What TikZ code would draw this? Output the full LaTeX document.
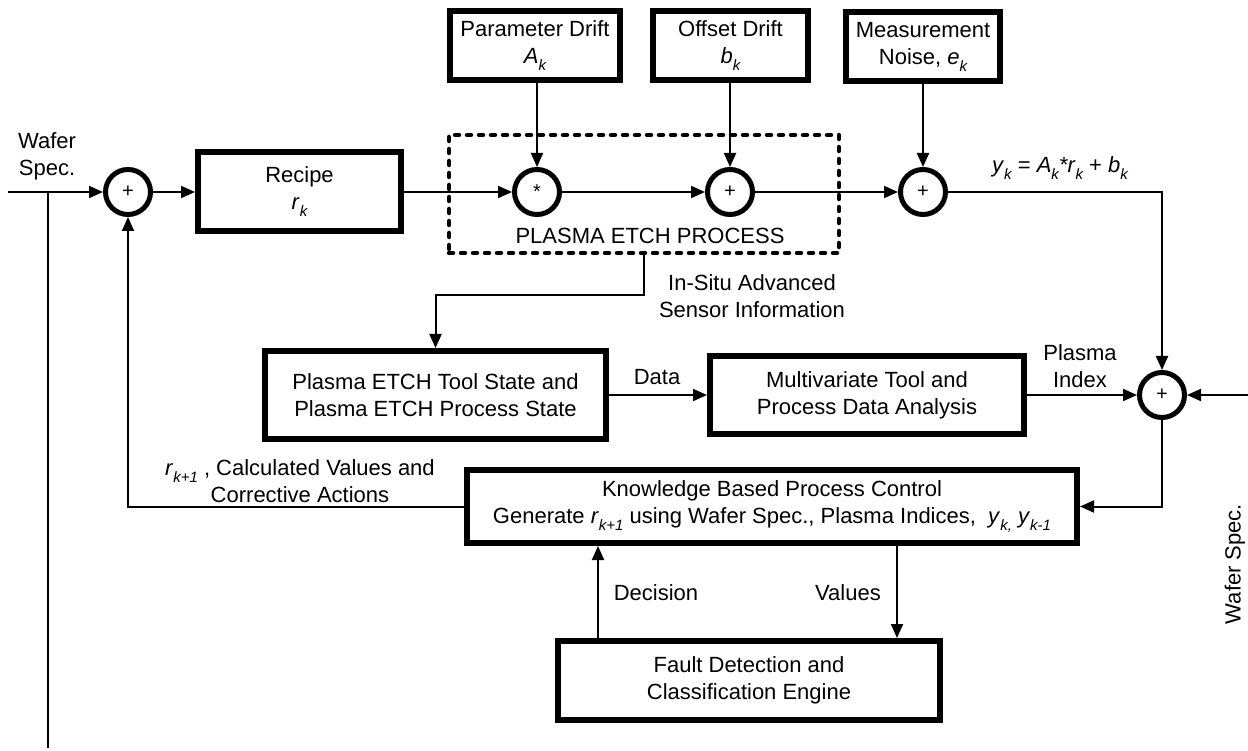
\documentclass[tikz,border=0pt]{standalone}
\usepackage{fontspec}
\setmainfont{Liberation Sans}
\usetikzlibrary{arrows.meta}
% italic subscript, set smaller and lowered
\newcommand{\sbi}[1]{\raisebox{-0.32em}{\fontsize{15}{15}\selectfont\itshape #1}}
\newcommand{\iv}[1]{\textit{#1}}
\begin{document}
\begin{tikzpicture}[x=1pt,y=-1pt,
  font=\fontsize{22}{27}\selectfont,
  >={Triangle[length=14pt,width=12pt]},
  blk/.style={draw,line width=6pt,rectangle,align=center,inner sep=0pt},
  sumc/.style={draw,circle,line width=5pt,minimum size=45pt,inner sep=0pt,font=\fontsize{20}{20}\selectfont},
  etchbox/.style={draw,line width=4.5pt,dash pattern=on 4pt off 8pt,line cap=round,rectangle,minimum width=390pt,minimum height=118pt},
  wire/.style={line width=2pt},
  lbl/.style={align=center,inner sep=0pt}]
\useasboundingbox (0,0) rectangle (1248,751);

% plasma etch process (dashed frame)
\node[etchbox] (etch) at (644,194) {};

% blocks
\node[blk,minimum width=203pt,minimum height=79pt] (recipe) at (299.5,192) {Recipe\\\iv{r}\sbi{k}};
\node[blk,minimum width=170pt,minimum height=69pt] (param) at (535,46) {Parameter Drift\\\iv{A}\sbi{k}};
\node[blk,minimum width=155pt,minimum height=69pt] (offset) at (730.5,46) {Offset Drift\\\iv{b}\sbi{k}};
\node[blk,minimum width=154pt,minimum height=69pt] (noise) at (923,47) {Measurement\\Noise, \iv{e}\sbi{k}};
\node[blk,minimum width=341pt,minimum height=88pt] (tool) at (435.5,395) {Plasma ETCH Tool State and\\Plasma ETCH Process State};
\node[blk,minimum width=314pt,minimum height=78pt] (multi) at (867,395) {Multivariate Tool and\\Process Data Analysis};
\node[blk,minimum width=610pt,minimum height=73pt] (kb) at (772,506.5) {Knowledge Based Process Control\\Generate \iv{r}\sbi{k+1} using Wafer Spec., Plasma Indices,\ \ \iv{y}\sbi{k,} \iv{y}\sbi{k-1}};
\node[blk,minimum width=382pt,minimum height=79pt] (fd) at (749,680.5) {Fault Detection and\\Classification Engine};

% summing junctions
\node[sumc] (s1) at (128,192) {+};
\node[sumc] (star) at (537,192) {*};
\node[sumc] (p2) at (730,192) {+};
\node[sumc] (s4) at (923,192) {+};
\node[sumc] (s3) at (1162,395) {+};

% free ends, bends and tap points
\coordinate (wsin) at (8,192);
\coordinate (tap) at (48,192);
\coordinate (tapend) at (48,748);
\coordinate (rin) at (1248,395);
\coordinate (sensbend) at (644,295);
\coordinate (dx) at (598,0);
\coordinate (vx) at (897,0);

% forward path
\draw[wire,->] (wsin) -- (s1);
\draw[wire] (tap) -- (tapend);
\draw[wire,->] (s1) -- (recipe);
\draw[wire,->] (recipe) -- (star);
\draw[wire,->] (star) -- (p2);
\draw[wire,->] (p2) -- (s4);
\draw[wire,->] (star |- param.south) -- (star);
\draw[wire,->] (p2 |- offset.south) -- (p2);
\draw[wire,->] (s4 |- noise.south) -- (s4);
\draw[wire,->] (s4) -- (s4 -| s3) -- (s3);

% sensor / analysis path
\draw[wire,->] (etch.south) -- (sensbend) -| (tool.north);
\draw[wire,->] (tool) -- (multi);
\draw[wire,->] (multi) -- (s3);
\draw[wire,->] (rin) -- (s3);

% control path
\draw[wire,->] (s3.south) |- (kb.east);
\draw[wire,->] (kb.west) -| (s1.south);
\draw[wire,->] (fd.north -| dx) -- (kb.south -| dx);
\draw[wire,->] (kb.south -| vx) -- (fd.north -| vx);

% labels
\node[lbl] (lws) at (47,156) {Wafer\\Spec.};
\node[lbl,rotate=90] (rws) at (1235,564) {Wafer Spec.};
\node[lbl] (lpep) at (650,236) {PLASMA ETCH PROCESS};
\node[lbl] (lsens) at (752,296) {In-Situ Advanced\\Sensor Information};
\node[lbl] (ldata) at (657,377) {Data};
\node[lbl] (lpi) at (1080,366) {Plasma\\Index};
\node[lbl] (ly) at (1060,168) {\iv{y}\sbi{k} = \iv{A}\sbi{k}\iv{*r}\sbi{k} + \iv{b}\sbi{k}};
\node[lbl] (lr) at (300,481) {\iv{r}\sbi{k+1} , Calculated Values and\\Corrective Actions};
\node[lbl] (ldec) at (656,593) {Decision};
\node[lbl] (lval) at (848,593) {Values};
\end{tikzpicture}
\end{document}
